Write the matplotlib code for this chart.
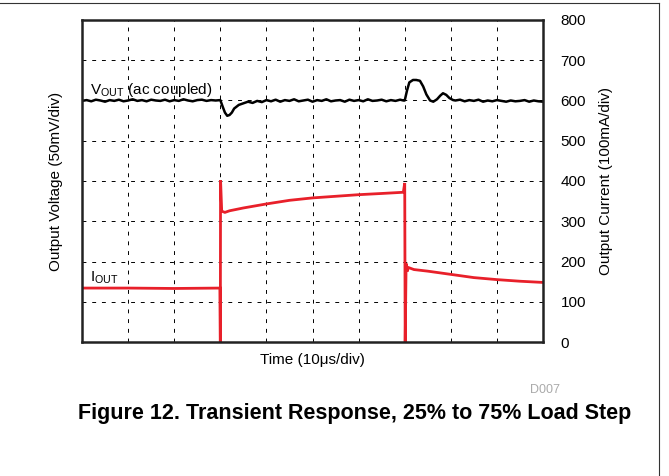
import matplotlib
matplotlib.use("Agg")
import matplotlib.pyplot as plt
from matplotlib.lines import Line2D

plt.rcParams["font.family"] = ["Liberation Sans", "DejaVu Sans"]
plt.rcParams["mathtext.fontset"] = "custom"
plt.rcParams["mathtext.rm"] = "Liberation Sans"

# time in divisions (10us/div), y in right-axis units (0..800)
vout_t = [0.0, 0.1, 0.2, 0.3, 0.4, 0.5, 0.6, 0.7, 0.8, 0.9, 1.0, 1.1, 1.2, 1.3,
          1.4, 1.5, 1.6, 1.7, 1.8, 1.9, 2.0, 2.1, 2.2, 2.3, 2.4, 2.5, 2.6, 2.7,
          2.8, 2.9, 3.0, 3.05, 3.1, 3.15, 3.2, 3.25, 3.3, 3.4, 3.5, 3.6, 3.7,
          3.8, 3.9, 4.0, 4.1, 4.2, 4.3, 4.4, 4.5, 4.6, 4.7, 4.8, 4.9, 5.0, 5.1,
          5.2, 5.3, 5.4, 5.5, 5.6, 5.7, 5.8, 5.9, 6.0, 6.1, 6.2, 6.3, 6.4, 6.5,
          6.6, 6.7, 6.8, 6.9, 6.97, 7.0, 7.05, 7.1, 7.18, 7.25, 7.33, 7.4, 7.47,
          7.55, 7.62, 7.7, 7.77, 7.83, 7.9, 7.97, 8.05, 8.1, 8.2, 8.3, 8.4, 8.5,
          8.6, 8.7, 8.8, 8.9, 9.0, 9.1, 9.2, 9.3, 9.4, 9.5, 9.6, 9.7, 9.8, 9.9,
          10.0]
vout_v = [599, 601, 598, 602, 600, 597, 601, 599, 602, 598, 600, 603, 599, 601,
          598, 602, 600, 599, 602, 598, 601, 599, 603, 600, 598, 601, 602, 599,
          601, 600, 601, 585, 570, 562, 564, 570, 580, 589, 593, 597, 594,
          599, 596, 601, 598, 602, 597, 601, 599, 603, 598, 600, 602, 597, 601,
          599, 603, 598, 600, 601, 597, 602, 599, 601, 598, 603, 599, 600, 602,
          598, 601, 599, 602, 600, 600, 625, 645, 651, 651, 649, 635, 615,
          600, 597, 603, 612, 618, 614, 606, 601, 600, 602, 598, 601, 599,
          602, 597, 600, 598, 601, 599, 597, 600, 598, 599, 601, 597, 600, 598,
          597]

iout_t = [0.0, 1.0, 2.0, 2.99, 3.0, 3.005, 3.03, 3.1, 3.2, 3.5, 4.0, 4.5, 5.0,
          5.5, 6.0, 6.5, 6.97, 7.0, 7.01, 7.03, 7.05, 7.08, 7.2, 7.5, 8.0, 8.5,
          9.0, 9.5, 10.0]
iout_v = [134, 134, 133, 134, 0, 402, 325, 322, 326, 333, 343, 352, 358,
          362, 366, 369, 372, 395, 0, 195, 175, 185, 180, 176, 168, 160,
          155, 151, 148]

yticks = [0, 100, 200, 300, 400, 500, 600, 700, 800]

fig = plt.figure(figsize=(6.69, 4.76), dpi=100)
ax = fig.add_axes([0.1226, 0.2815, 0.6891, 0.6765])
ax2 = ax.twinx()

ax.plot(iout_t, iout_v, color="#e8202a", lw=2.0, solid_joinstyle="miter")
ax.plot(vout_t, vout_v, color="black", lw=1.8)

ax.set_xlim(0, 10)
ax.set_ylim(0, 800)
ax.set_xticks(range(11))
ax.set_yticks(yticks)
ax.grid(True, color="black", lw=0.7, linestyle=(0, (4, 6)))
ax.tick_params(axis="x", length=0, labelbottom=False)
ax.tick_params(axis="y", left=False, right=False, labelleft=False,
               labelright=True, labelsize=11, pad=9)
for s in ax.spines.values():
    s.set_linewidth(1.8)
    s.set_color("#222222")

ax.set_xlabel("Time (10\u03bcs/div)", fontsize=11, labelpad=8)
ax.set_ylabel("Output Voltage (50mV/div)", fontsize=11, labelpad=14)
ax2.set_ylim(0, 800)
ax2.set_yticks([])
ax2.set_ylabel("Output Current (100mA/div)", fontsize=11, labelpad=40)
for s in ax2.spines.values():
    s.set_visible(False)

ax.text(0.18, 617, r"V$_{\mathregular{OUT}}$ (ac coupled)", fontsize=11)
ax.text(0.18, 150, r"I$_{\mathregular{OUT}}$", fontsize=11)

fig.text(545 / 669, 1 - 390 / 476, "D007", fontsize=9, color="#aaaaaa",
         ha="center", va="center")
fig.text(355 / 669, 1 - 413 / 476,
         "Figure 12. Transient Response, 25% to 75% Load Step",
         fontsize=15.5, fontweight="bold", ha="center", va="center")

# page frame (top and right edges)
fig.add_artist(Line2D([0, 659 / 669], [1 - 3 / 476, 1 - 3 / 476],
                      transform=fig.transFigure, color="#333333", lw=0.8))
fig.add_artist(Line2D([659 / 669, 659 / 669], [1 - 3 / 476, 0],
                      transform=fig.transFigure, color="#333333", lw=0.8))

fig.savefig("out.png", dpi=100)
